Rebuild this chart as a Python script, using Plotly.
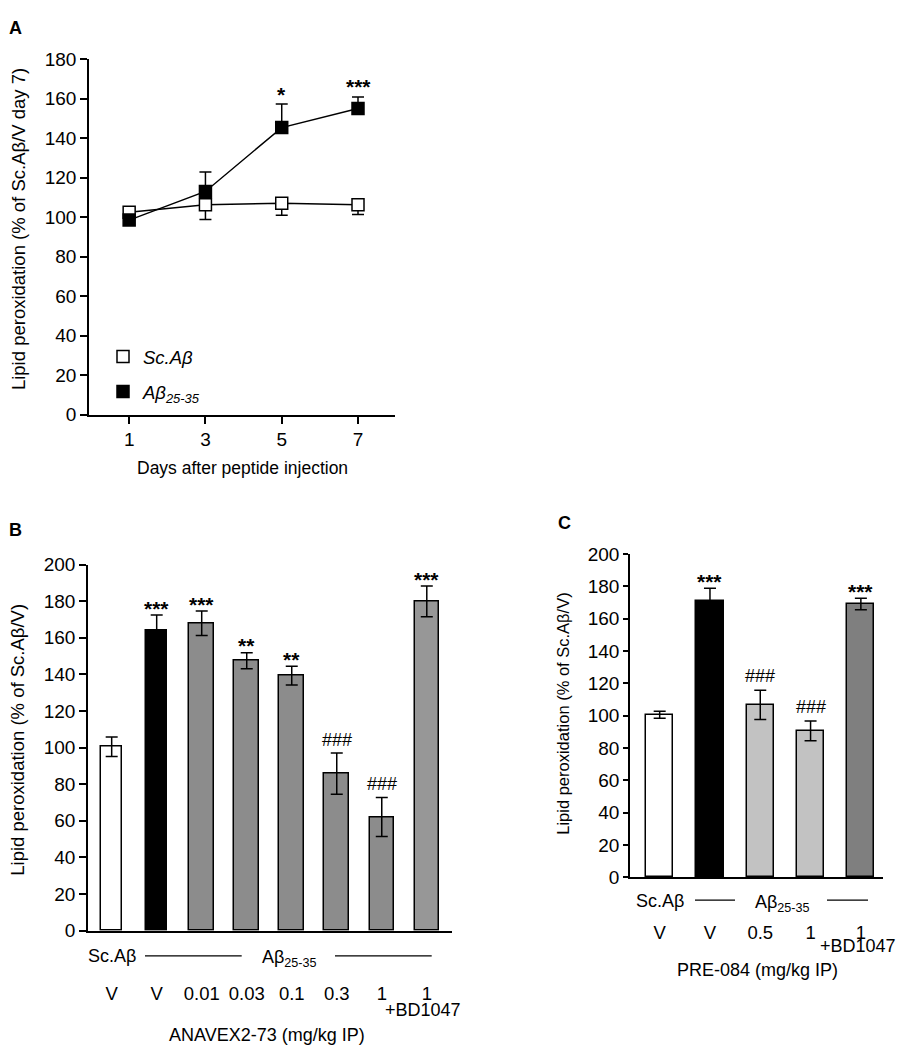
import plotly.graph_objects as go

W, H = 900, 1061
FONT = "Liberation Sans, Arial, sans-serif"


def px(x):
    return x / W


def py(y):
    return 1 - y / H


# ---------------- Panel A data ----------------
days = [1, 3, 5, 7]
sc_mean = [102.5, 106.3, 107.0, 106.3]
sc_sem = [2.0, 7.5, 6.0, 5.0]
ab_mean = [98.5, 113.0, 145.3, 155.0]
ab_sem = [1.5, 9.8, 11.9, 5.8]
a_sig = ["", "", "*", "***"]

# ---------------- Panel B data ----------------
b_cats = ["Sc.Aβ V", "Aβ V", "Aβ 0.01", "Aβ 0.03", "Aβ 0.1", "Aβ 0.3", "Aβ 1", "Aβ 1+BD1047"]
b_ticks = ["V", "V", "0.01", "0.03", "0.1", "0.3", "1", "1"]
b_mean = [100.5, 163.8, 167.9, 147.4, 139.3, 85.8, 62.1, 179.8]
b_sem = [5.3, 8.6, 6.7, 4.4, 5.1, 11.3, 10.7, 8.4]
b_sig = ["", "***", "***", "**", "**", "###", "###", "***"]

# ---------------- Panel C data ----------------
c_cats = ["Sc.Aβ V", "Aβ V", "Aβ 0.5", "Aβ 1", "Aβ 1+BD1047"]
c_ticks = ["V", "V", "0.5", "1", "1"]
c_mean = [100.6, 170.7, 106.7, 90.7, 169.1]
c_sem = [2.2, 8.1, 9.0, 6.1, 3.5]
c_sig = ["", "***", "###", "###", "***"]

# ---------------- styles ----------------
b_colors = ["white", "black", "#8c8c8c", "#8c8c8c", "#8c8c8c", "#8c8c8c", "#8c8c8c", "#979797"]
b_widths = [0.47, 0.47, 0.545, 0.545, 0.545, 0.545, 0.545, 0.545]
c_colors = ["white", "black", "#c2c2c2", "#c2c2c2", "#7f7f7f"]
c_widths = [0.54] * 5

fig = go.Figure()

# Panel A lines
fig.add_trace(go.Scatter(x=days, y=sc_mean, mode="lines", line=dict(color="black", width=1.5),
                         showlegend=False, xaxis="x", yaxis="y", hoverinfo="skip"))
fig.add_trace(go.Scatter(x=days, y=ab_mean, mode="lines", line=dict(color="black", width=1.5),
                         showlegend=False, xaxis="x", yaxis="y", hoverinfo="skip"))
# Panel A markers
fig.add_trace(go.Scatter(
    x=days, y=sc_mean, mode="markers", name="<i>Sc.Aβ</i>", legendgroup="sc",
    marker=dict(symbol="square", size=12, color="white", line=dict(color="black", width=1.5)),
    error_y=dict(type="data", symmetric=False, array=[0] * len(sc_sem), arrayminus=sc_sem,
                 color="black", thickness=1.5, width=6),
    xaxis="x", yaxis="y"))
fig.add_trace(go.Scatter(
    x=days, y=ab_mean, mode="markers", name="<i>Aβ<sub>25-35</sub></i>", legendgroup="ab",
    marker=dict(symbol="square", size=12, color="black", line=dict(color="black", width=1.5)),
    error_y=dict(type="data", symmetric=False, array=ab_sem, arrayminus=[0] * len(ab_sem),
                 color="black", thickness=1.5, width=6),
    xaxis="x", yaxis="y"))

# Panel B bars
fig.add_trace(go.Bar(
    x=b_cats, y=b_mean, width=b_widths, showlegend=False,
    marker=dict(color=b_colors, line=dict(color="black", width=1.5)),
    error_y=dict(type="data", array=b_sem, color="black", thickness=1.5, width=6),
    xaxis="x2", yaxis="y2"))

# Panel C bars
fig.add_trace(go.Bar(
    x=c_cats, y=c_mean, width=c_widths, showlegend=False,
    marker=dict(color=c_colors, line=dict(color="black", width=1.5)),
    error_y=dict(type="data", array=c_sem, color="black", thickness=1.5, width=6),
    xaxis="x3", yaxis="y3"))

axis_common = dict(showline=True, linecolor="black", linewidth=1.5, showgrid=False, zeroline=False,
                   ticks="outside", tickcolor="black", tickwidth=1.5, fixedrange=True)

annotations = []


def sig_annots(xs, means, sems, sigs, xref, yref, star_shift, hash_shift):
    for x, m, s, t in zip(xs, means, sems, sigs):
        if not t:
            continue
        is_hash = "#" in t
        annotations.append(dict(
            x=x, y=m + s, xref=xref, yref=yref,
            text=t if is_hash else "<b>%s</b>" % t, showarrow=False,
            yanchor="middle", xanchor="center",
            yshift=hash_shift if is_hash else star_shift,
            font=dict(size=18 if is_hash else 21, color="#000000", family=FONT)))


sig_annots(days, ab_mean, ab_sem, a_sig, "x", "y", 10, 12)
sig_annots(list(range(len(b_cats))), b_mean, b_sem, b_sig, "x2", "y2", 7, 13)
sig_annots(list(range(len(c_cats))), c_mean, c_sem, c_sig, "x3", "y3", 7, 14)


def txt(x, y, text, size=18, xanchor="center", angle=0, bold=False):
    annotations.append(dict(
        x=px(x), y=py(y), xref="paper", yref="paper", text=("<b>%s</b>" % text) if bold else text,
        showarrow=False, xanchor=xanchor, yanchor="middle", textangle=angle,
        font=dict(size=size, color="black", family=FONT)))


# panel letters
txt(15, 18.5, "A", 18, bold=True)
txt(15, 530, "B", 18, bold=True)
txt(564, 523, "C", 18, bold=True)

# axis titles
txt(18, 223.5, "Lipid peroxidation (% of Sc.Aβ/V day 7)", 18.5, angle=-90)
txt(242, 467, "Days after peptide injection", 17.5)
txt(17.5, 745, "Lipid peroxidation (% of Sc.Aβ/V)", 18.5, angle=-90)
txt(563, 718, "Lipid peroxidation (% of Sc.Aβ/V)", 16.5, angle=-90)

# group labels under B
txt(112, 965, "Sc.Aβ", 18)
txt(260, 968, "Aβ<sub>25-35</sub>", 18, xanchor="left")
txt(423, 1020, "+BD1047", 18)
txt(266.7, 1045.7, "ANAVEX2-73 (mg/kg IP)", 18)

# group labels under C
txt(660, 909, "Sc.Aβ", 18)
txt(753, 912, "Aβ<sub>25-35</sub>", 18, xanchor="left")
txt(858, 955, "+BD1047", 18)
txt(757, 979, "PRE-084 (mg/kg IP)", 18)

shapes = []
for x0, x1, y in [(145, 241.7, 965), (335, 431.7, 965), (695, 735, 908), (827, 868, 908)]:
    shapes.append(dict(type="line", xref="paper", yref="paper", x0=px(x0), x1=px(x1), y0=py(y), y1=py(y),
                       line=dict(color="black", width=1.2)))

fig.update_layout(
    width=W, height=H, margin=dict(l=0, r=0, t=0, b=0),
    paper_bgcolor="white", plot_bgcolor="white",
    font=dict(family=FONT, size=18, color="black"),
    bargap=0,
    xaxis=dict(axis_common, domain=[px(89), px(395)], range=[-0.053, 7.97], tickvals=days,
               ticklen=7, anchor="y", tickfont=dict(size=19)),
    yaxis=dict(axis_common, domain=[py(413), py(50)], range=[0, 180], dtick=20, ticklen=7,
               anchor="x", tickfont=dict(size=19)),
    xaxis2=dict(axis_common, domain=[px(88), px(452)], type="category", range=[-0.526, 7.56],
                tickmode="array", tickvals=b_cats, ticktext=b_ticks, ticks="", ticklabelstandoff=45,
                anchor="y2", tickfont=dict(size=18.5)),
    yaxis2=dict(axis_common, domain=[py(939.3), py(565.7)], range=[0, 200], dtick=20, ticklen=7,
                anchor="x2", tickfont=dict(size=19)),
    xaxis3=dict(axis_common, domain=[px(630), px(883)], type="category", range=[-0.59, 4.44],
                tickmode="array", tickvals=c_cats, ticktext=c_ticks, ticks="", ticklabelstandoff=38,
                anchor="y3", tickfont=dict(size=18.5)),
    yaxis3=dict(axis_common, domain=[py(885), py(555)], range=[0, 200], dtick=20, ticklen=5,
                anchor="x3", tickfont=dict(size=19)),
    legend=dict(x=px(103), y=py(334.5), xanchor="left", yanchor="top", bgcolor="rgba(0,0,0,0)",
                font=dict(size=18.5, family=FONT), tracegroupgap=8, itemsizing="trace"),
    annotations=annotations, shapes=shapes,
)

fig.write_html(
    "out.html",
    config={"displayModeBar": False},
    post_script="document.body.style.margin='0';document.body.style.overflow='hidden';",
)
